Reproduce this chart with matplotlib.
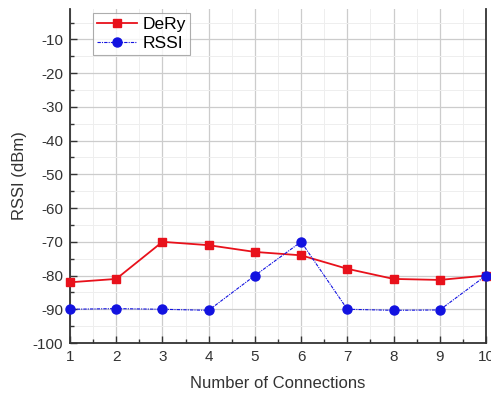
import matplotlib
matplotlib.use("Agg")
import matplotlib.pyplot as plt
from matplotlib.ticker import MultipleLocator

connections = [1, 2, 3, 4, 5, 6, 7, 8, 9, 10]
dery = [-82, -81, -70, -71, -73, -74, -78, -81, -81.3, -80]
rssi = [-90, -89.8, -90, -90.3, -80, -70, -90, -90.3, -90.2, -80]

plt.rcParams["font.family"] = ["Liberation Sans", "DejaVu Sans"]
plt.rcParams["axes.unicode_minus"] = False

fig = plt.figure(figsize=(4.91, 3.94), dpi=100)
ax = fig.add_axes([0.1426, 0.1294, 0.8472, 0.8476])

ax.plot(connections, dery, color="#e8111b", marker="s", markersize=6,
        linewidth=1.3, label="DeRy", zorder=3, clip_on=False)
ax.plot(connections, rssi, color="#1212e0", marker="o", markersize=6.5,
        linewidth=0.8, linestyle=(0, (3, 1, 1, 1)), label="RSSI", zorder=3,
        clip_on=False)

ax.set_xlim(1, 10)
ax.set_ylim(-100, -1)
ax.xaxis.set_major_locator(MultipleLocator(1))
ax.xaxis.set_minor_locator(MultipleLocator(0.5))
ax.yaxis.set_major_locator(MultipleLocator(10))
ax.yaxis.set_minor_locator(MultipleLocator(5))

ax.grid(which="major", color="#cccccc", linewidth=0.9)
ax.grid(which="minor", color="#eeeeee", linewidth=0.7)
ax.set_axisbelow(True)

ax.spines["top"].set_visible(False)
for s in ["left", "bottom", "right"]:
    ax.spines[s].set_linewidth(1.3)
    ax.spines[s].set_color("#333333")

ax.tick_params(which="major", direction="in", length=5, width=1, labelsize=11,
               colors="#333333", pad=5)
ax.tick_params(which="minor", direction="in", length=3, width=1, colors="#333333")
ax.tick_params(axis="y", which="both", right=False)

ax.set_xlabel("Number of Connections", fontsize=12, color="#333333", labelpad=9)
ax.set_ylabel("RSSI (dBm)", fontsize=12, color="#333333", labelpad=4)

leg = ax.legend(loc="upper left", bbox_to_anchor=(0.042, 1.005), fontsize=12.5,
                frameon=True, fancybox=False, edgecolor="#999999",
                handlelength=2.3, handletextpad=0.3, borderpad=0.25,
                labelspacing=0.2, borderaxespad=0.3)
leg.get_frame().set_linewidth(0.8)

fig.savefig("out.png", dpi=100)
